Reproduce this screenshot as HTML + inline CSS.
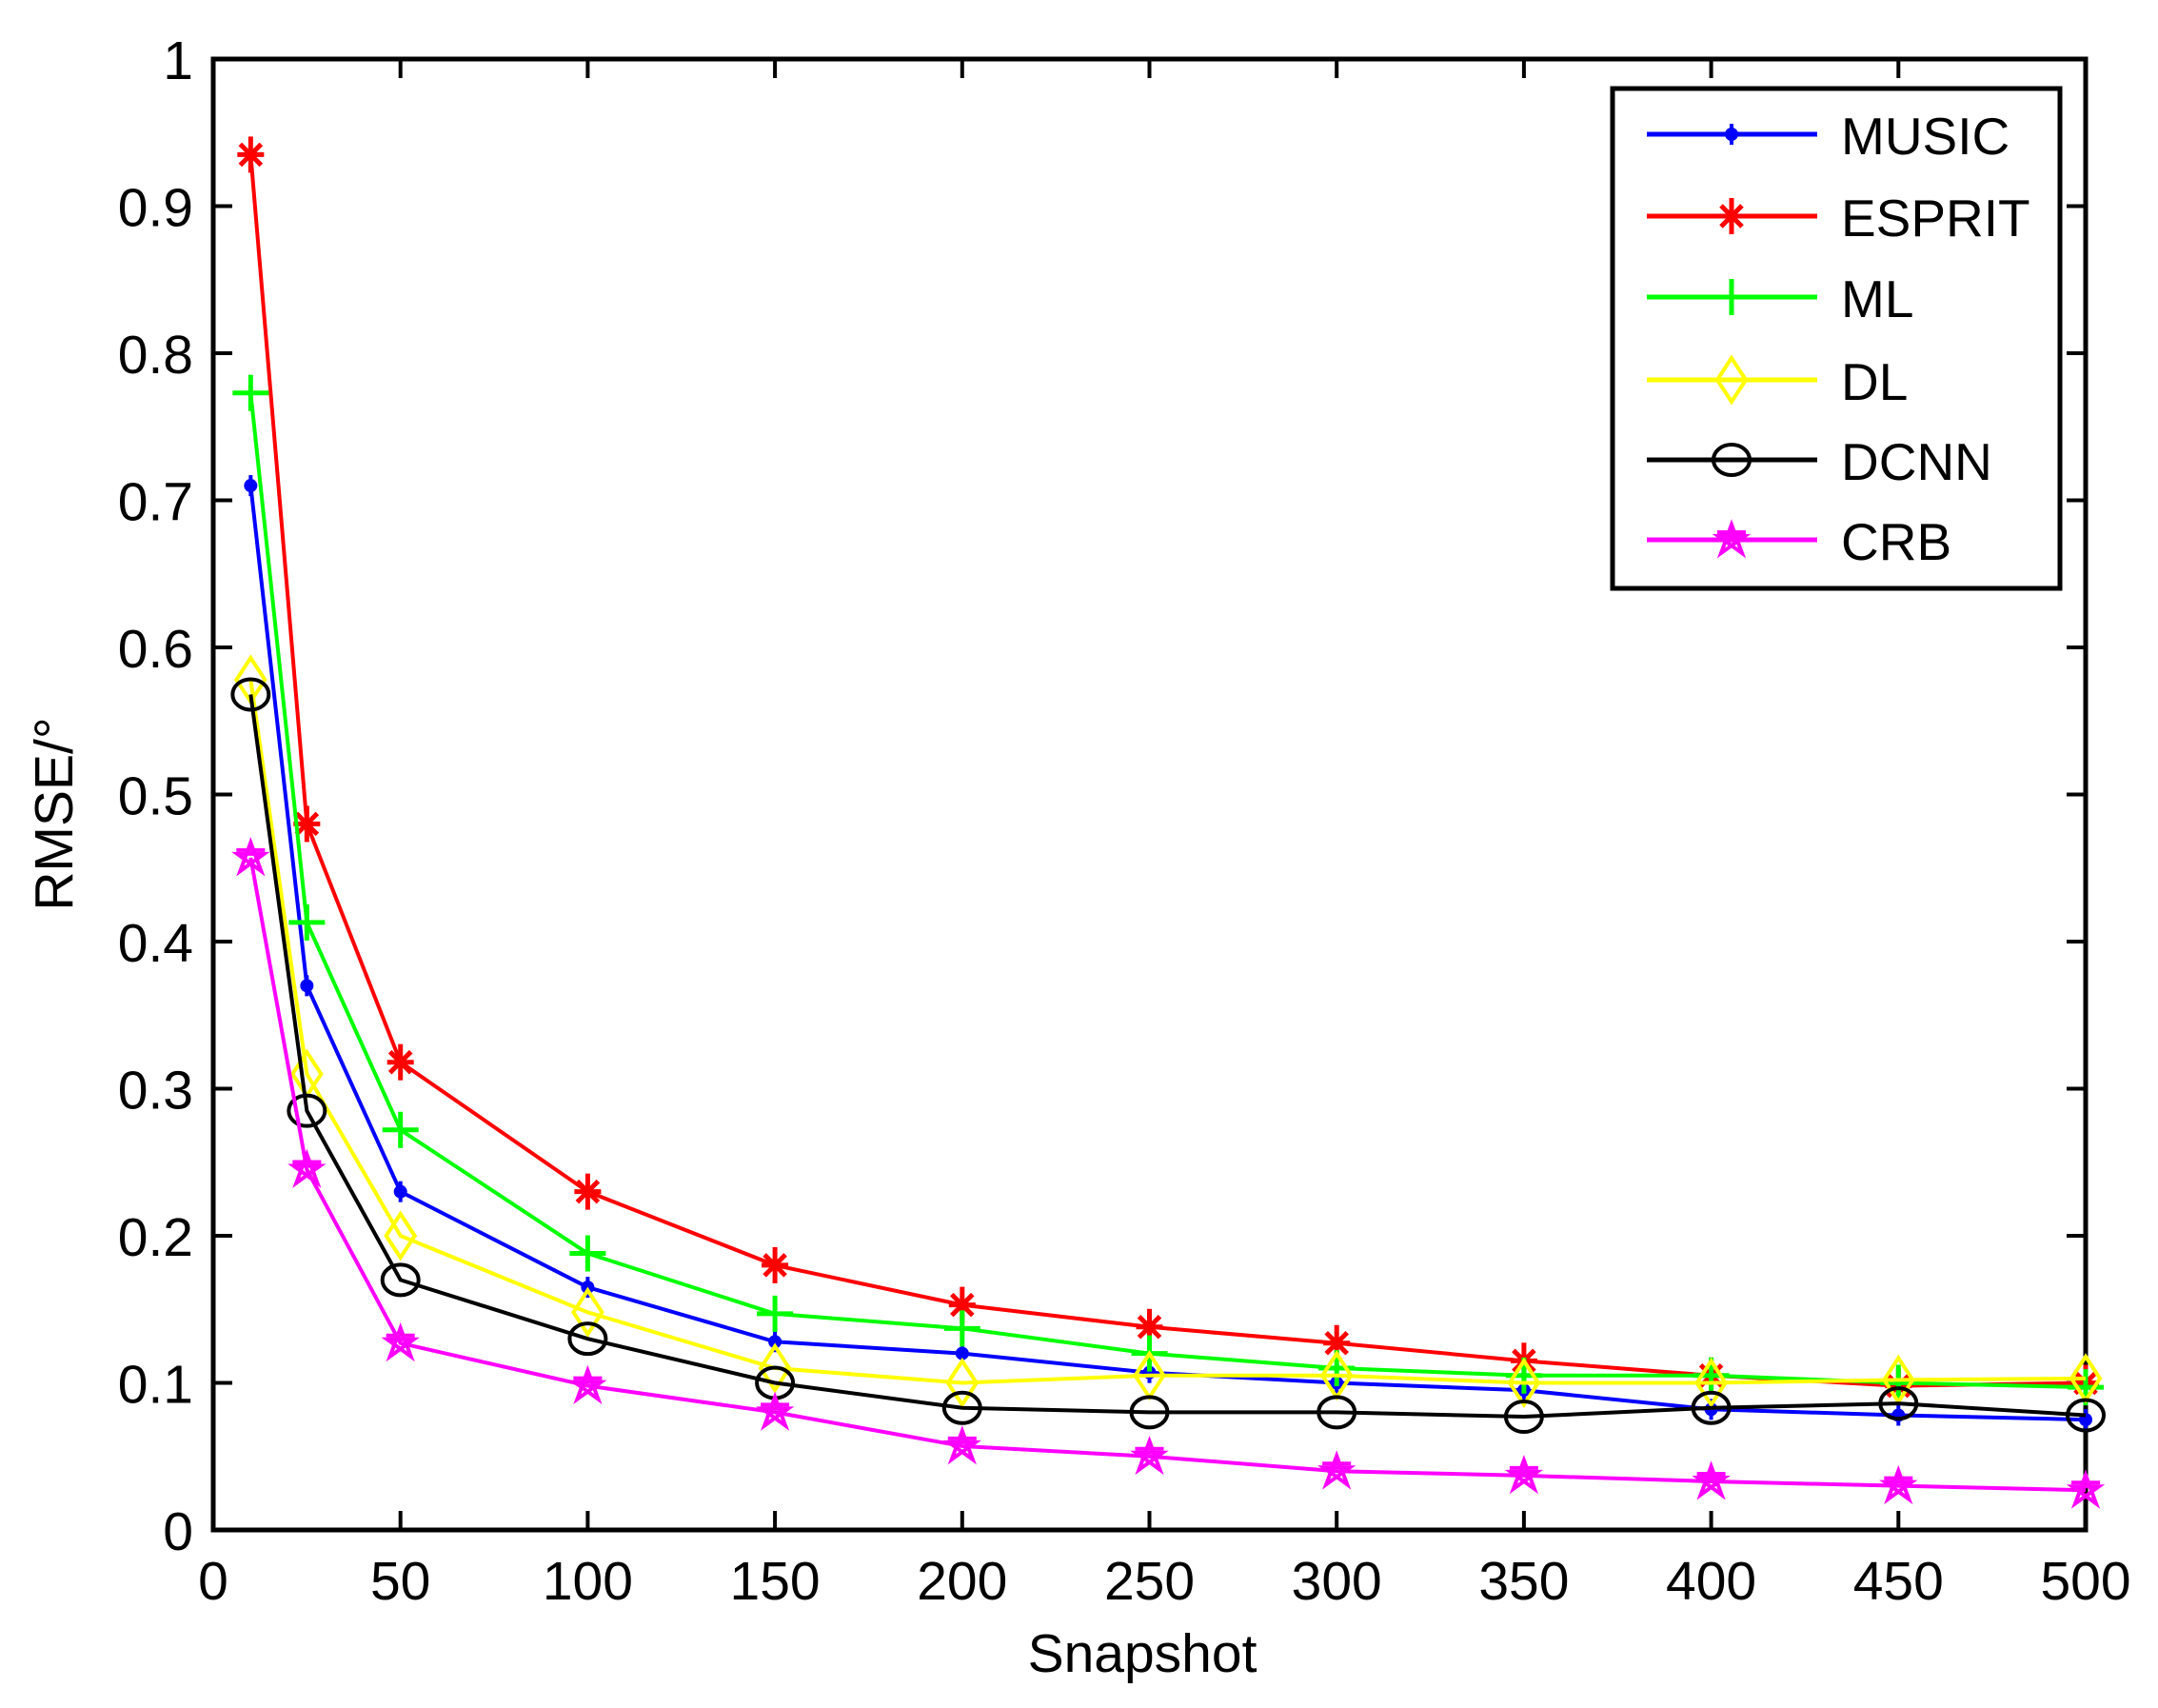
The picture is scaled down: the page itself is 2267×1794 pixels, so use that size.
<!DOCTYPE html>
<html><head><meta charset="utf-8"><style>html,body{margin:0;padding:0;background:#fff}svg{display:block}</style></head>
<body>
<svg id="s" width="2267" height="1794" xmlns="http://www.w3.org/2000/svg" font-family="Liberation Sans, sans-serif"></svg>
<script>
const L=224,R=2191,T=62,B=1607;
const X=v=>L+v*(R-L)/500, Y=r=>B-r*(B-T);
let s='<rect width="2267" height="1794" fill="#fff"/>';
for(let i=0;i<=10;i++){const y=Y(i/10);
 s+=`<line x1="${L}" y1="${y}" x2="${L+20}" y2="${y}" stroke="#000" stroke-width="4"/><line x1="${R}" y1="${y}" x2="${R-20}" y2="${y}" stroke="#000" stroke-width="4"/>`;
 s+=`<text x="203" y="${y+21}" font-size="57" text-anchor="end">${i==0?'0':i==10?'1':(i/10).toString()}</text>`;}
for(let v=0;v<=500;v+=50){const x=X(v);
 s+=`<line x1="${x}" y1="${B}" x2="${x}" y2="${B-20}" stroke="#000" stroke-width="4"/><line x1="${x}" y1="${T}" x2="${x}" y2="${T+20}" stroke="#000" stroke-width="4"/>`;
 s+=`<text x="${x}" y="1680" font-size="57" text-anchor="middle">${v}</text>`;}
s+=`<rect x="${L}" y="${T}" width="${R-L}" height="${B-T}" fill="none" stroke="#000" stroke-width="5"/>`;
s+=`<text x="1200" y="1756" font-size="57" text-anchor="middle">Snapshot</text>`;
s+=`<text transform="translate(76,855) rotate(-90)" font-size="57" text-anchor="middle">RMSE/°</text>`;
const xs=[10,25,50,100,150,200,250,300,350,400,450,500];
const S=[
['MUSIC','#0000ff','dot',[.71,.37,.23,.165,.128,.12,.107,.1,.095,.082,.078,.075]],
['ESPRIT','#ff0000','star',[.935,.48,.318,.23,.18,.153,.138,.127,.115,.105,.098,.1]],
['ML','#00ff00','plus',[.773,.413,.272,.188,.147,.137,.12,.11,.105,.105,.1,.097]],
['DL','#ffff00','dia',[.578,.31,.2,.148,.11,.1,.105,.105,.1,.1,.102,.103]],
['DCNN','#000000','circ',[.568,.285,.17,.13,.1,.083,.08,.08,.077,.083,.086,.078]],
['CRB','#ff00ff','pent',[.457,.245,.127,.098,.08,.057,.05,.04,.037,.033,.03,.027]]];
function mk(t,c,x,y){
 if(t=='dot')return `<circle cx="${x}" cy="${y}" r="7" fill="${c}"/><line x1="${x}" y1="${y-11}" x2="${x}" y2="${y+11}" stroke="${c}" stroke-width="4"/>`;
 if(t=='star')return `<g stroke="${c}" stroke-width="5"><line x1="${x}" y1="${y-19}" x2="${x}" y2="${y+19}"/><line x1="${x-14}" y1="${y}" x2="${x+14}" y2="${y}"/><line x1="${x-11}" y1="${y-11}" x2="${x+11}" y2="${y+11}"/><line x1="${x-11}" y1="${y+11}" x2="${x+11}" y2="${y-11}"/></g>`;
 if(t=='plus')return `<g stroke="${c}" stroke-width="5"><line x1="${x}" y1="${y-19}" x2="${x}" y2="${y+19}"/><line x1="${x-19}" y1="${y}" x2="${x+19}" y2="${y}"/></g>`;
 if(t=='dia')return `<polygon points="${x},${y-23} ${x+15},${y} ${x},${y+23} ${x-15},${y}" fill="none" stroke="${c}" stroke-width="4"/>`;
 if(t=='circ')return `<ellipse cx="${x}" cy="${y}" rx="19" ry="16" fill="none" stroke="${c}" stroke-width="4"/>`;
 return `<g fill="none" stroke="${c}" stroke-width="4"><polygon points="${x},${y-16} ${x+11},${y+14} ${x-14},${y-4} ${x+14},${y-4} ${x-11},${y+14}"/><line x1="${x-15}" y1="${y-8}" x2="${x+15}" y2="${y-8}"/></g>`;
}
S.forEach(([n,c,t,d])=>{
 s+=`<polyline points="${xs.map((v,i)=>X(v)+','+Y(d[i])).join(' ')}" fill="none" stroke="${c}" stroke-width="4"/>`;
 xs.forEach((v,i)=>s+=mk(t,c,X(v),Y(d[i])));
});
s+=`<rect x="1694" y="93" width="470" height="525" fill="#fff" stroke="#000" stroke-width="5"/>`;
const ly=[141,227,312,399,483,567];
S.forEach(([n,c,t],i)=>{const y=ly[i];
 s+=`<line x1="1730" y1="${y}" x2="1909" y2="${y}" stroke="${c}" stroke-width="5"/>`+mk(t,c,1819,y);
 s+=`<text x="1934" y="${y+21}" font-size="55">${n}</text>`;});
document.getElementById('s').innerHTML=s;
</script>
</body></html>
